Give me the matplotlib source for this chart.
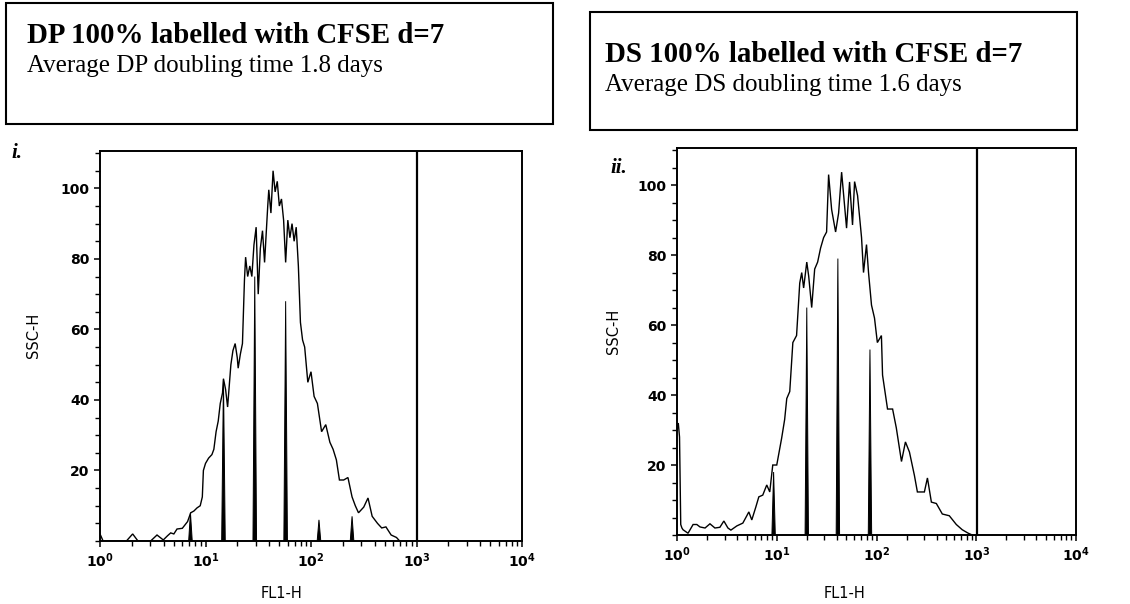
import numpy as np
import matplotlib
matplotlib.use("Agg")
import matplotlib.pyplot as plt
from matplotlib.patches import Rectangle
from matplotlib.ticker import LogLocator, MultipleLocator, FixedLocator, NullFormatter

plt.rcParams['font.family'] = ['DejaVu Sans']

# ---- panel i : DP population, FL1-H channel vs. SSC-H counts ----
dp_fl1 = [1.00, 1.07, 1.78, 2.04, 2.29, 3.02, 3.47, 3.98, 4.37, 4.68, 5.01, 5.37,
          6.03, 6.76, 7.24, 7.76, 8.32, 8.91, 9.33, 9.55, 10.0, 10.7, 11.5, 12.0,
          12.6, 13.2, 13.8, 14.5, 14.8, 15.5, 16.2, 17.4, 18.2, 19.1, 20.0, 20.4,
          21.4, 22.4, 23.4, 24.0, 25.1, 26.3, 27.5, 28.8, 30.2, 31.6, 33.1, 34.7,
          36.3, 38.9, 39.8, 41.7, 43.7, 45.7, 47.9, 50.1, 52.5, 55.0, 57.5, 60.3,
          63.1, 66.1, 69.2, 72.4, 75.9, 79.4, 83.2, 87.1, 93.3, 100, 107, 115,
          126, 138, 151, 162, 174, 186, 204, 224, 245, 263, 282, 316,
          347, 380, 427, 468, 513, 575, 646, 692]
dp_counts = [2, 0, 0, 2, 0, 0, 1.7, 0.3, 1.5, 2.3, 2.0, 3.4,
             3.6, 5.5, 8, 8.5, 9.4, 10, 12.5, 20, 22, 23.5, 24.5, 26,
             31, 34, 39, 42, 46, 43, 38, 50, 54, 56, 52, 49,
             53, 56, 74, 80.5, 75, 78, 75, 84, 89, 70, 83, 88,
             79, 95, 99.6, 93, 105, 99, 102, 95, 97, 91, 79, 91,
             86, 90, 85, 89, 78, 62, 57, 55, 45, 48, 41, 39,
             31, 33, 28, 26, 23, 17.3, 17.3, 18, 12.5, 10, 8, 9.6,
             12.2, 7, 5, 3.7, 4, 1.7, 1, 0]
dp_peak_fl1 = [7.2, 14.8, 29.3, 57.5, 119, 245]
dp_peak_counts = [8, 46, 75, 68, 6, 7]
dp_gate = 1000

# ---- panel ii : DS population ----
ds_fl1 = [1.00, 1.03, 1.06, 1.09, 1.12, 1.15, 1.29, 1.45, 1.58, 1.70, 1.91, 2.14, 2.40,
          2.69, 2.95, 3.24, 3.47, 3.98, 4.57, 5.01, 5.25, 5.62, 6.17, 6.61, 7.24,
          7.94, 8.51, 9.12, 10.0, 11.2, 12.0, 12.6, 13.5, 14.5, 15.8, 17.0, 17.8,
          18.6, 20.0, 20.9, 22.4, 24.0, 25.7, 27.5, 29.5, 31.6, 33.1, 35.5, 38.9,
          41.7, 44.7, 47.9, 50.1, 53.7, 57.5, 60.3, 64.6, 70.8, 74.1, 79.4, 83.2,
          89.1, 95.5, 102, 112, 115, 129, 145, 158, 178, 195, 214, 240,
          257, 302, 324, 355, 398, 457, 537, 631, 724, 832, 912]
ds_counts = [30, 32, 28, 3, 2, 1.5, 0.5, 3, 3, 2.3, 2, 3.2, 2,
             2.2, 4, 2, 1.4, 2.6, 3.4, 5.5, 6.6, 4.3, 8, 10.9, 11.4,
             14.3, 12.3, 20, 20, 27.7, 33, 39, 41, 55, 57, 72, 75,
             70.6, 78, 74, 65, 76, 78, 82, 85, 86.6, 103, 93, 86.6,
             92, 103.7, 94, 87.7, 100.9, 88.6, 101, 97, 85, 75, 83, 75,
             65.7, 62, 55, 57, 45.7, 36, 36, 30.6, 21, 26.6, 23.7, 17,
             12.3, 12.3, 16.3, 9.4, 9, 6, 5.5, 3, 1.5, 0.5, 0]
ds_peak_fl1 = [9.3, 20, 41, 86]
ds_peak_counts = [18, 65, 79, 53]
ds_gate = 1020

y_major = [20, 40, 60, 80, 100]
x_decades = [1, 10, 100, 1000, 10000]

fig = plt.figure(figsize=(11.3, 6.04), dpi=100)
fig.patch.set_facecolor('white')


def draw_panel(ax, fl1, counts, peak_fl1, peak_counts, gate, ylabel_pos, xlabel_pos):
    ax.set_xscale('log')
    ax.set_xlim(x_decades[0], x_decades[-1])
    ax.set_ylim(0, 110.6)
    ax.plot(fl1, counts, color='black', lw=1.0, solid_joinstyle='miter')
    # generation peaks as narrow spikes, wide at the base and tapering upward
    half = 10 ** 0.017
    for px, h in zip(peak_fl1, peak_counts):
        ax.fill([px / half, px, px * half], [0, h, 0], color='black', lw=0.7,
                edgecolor='black')
    ax.axvline(gate, color='black', lw=1.6)
    for s in ax.spines.values():
        s.set_linewidth(1.4)
        s.set_color('black')
    ax.xaxis.set_major_locator(FixedLocator(x_decades))
    ax.xaxis.set_minor_locator(LogLocator(base=10, subs=np.arange(2, 10)))
    ax.xaxis.set_minor_formatter(NullFormatter())
    ax.yaxis.set_major_locator(FixedLocator(y_major))
    ax.yaxis.set_minor_locator(MultipleLocator(5))
    ax.tick_params(axis='both', which='major', direction='out', length=4.5,
                   width=1.1, labelsize=10, pad=3, colors='black')
    ax.tick_params(axis='both', which='minor', direction='out', length=3.5,
                   width=1.0)
    for lab in ax.get_xticklabels() + ax.get_yticklabels():
        lab.set_fontweight('bold')
    ax.set_ylabel('SSC-H', fontsize=10.5)
    ax.set_xlabel('FL1-H', fontsize=10.5)
    ax.yaxis.set_label_coords(*ylabel_pos)
    ax.xaxis.set_label_coords(*xlabel_pos)


ax1 = fig.add_axes([100 / 1130, 1 - 541 / 604, 422 / 1130, 390 / 604])
draw_panel(ax1, dp_fl1, dp_counts, dp_peak_fl1, dp_peak_counts, dp_gate,
           (-0.14, 0.526), (0.43, -0.115))

ax2 = fig.add_axes([677 / 1130, 1 - 535 / 604, 399 / 1130, 387 / 604])
draw_panel(ax2, ds_fl1, ds_counts, ds_peak_fl1, ds_peak_counts, ds_gate,
           (-0.14, 0.527), (0.42, -0.132))

# heading boxes
fig.add_artist(Rectangle((6 / 1130, 1 - 124 / 604), 547 / 1130, 121 / 604,
                         transform=fig.transFigure, fill=False, lw=1.5, ec='black'))
fig.add_artist(Rectangle((590 / 1130, 1 - 130 / 604), 487 / 1130, 118 / 604,
                         transform=fig.transFigure, fill=False, lw=1.5, ec='black'))

serif = ['Liberation Serif', 'DejaVu Serif']
fig.text(27 / 1130, 1 - 43 / 604, 'DP 100% labelled with CFSE d=7', family=serif,
         weight='bold', fontsize=20.8, va='baseline', ha='left')
fig.text(27 / 1130, 1 - 72 / 604, 'Average DP doubling time 1.8 days', family=serif,
         fontsize=18, va='baseline', ha='left')
fig.text(605 / 1130, 1 - 62 / 604, 'DS 100% labelled with CFSE d=7', family=serif,
         weight='bold', fontsize=20.8, va='baseline', ha='left')
fig.text(605 / 1130, 1 - 91 / 604, 'Average DS doubling time 1.6 days', family=serif,
         fontsize=18, va='baseline', ha='left')

# panel tags
fig.text(11 / 1130, 1 - 153 / 604, 'i.', family=serif, weight='bold', style='italic',
         fontsize=15, va='center', ha='left')
fig.text(610 / 1130, 1 - 168 / 604, 'ii.', family=serif, weight='bold', style='italic',
         fontsize=15, va='center', ha='left')

fig.savefig('out.png', dpi=100, facecolor='white')
